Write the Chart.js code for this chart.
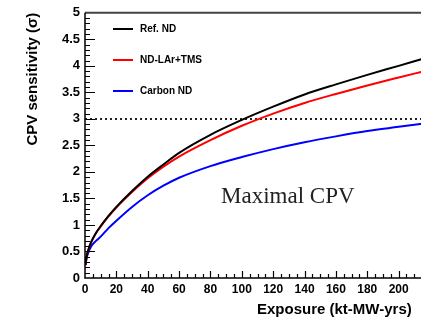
<!DOCTYPE html>
<html>
<head>
<meta charset="utf-8">
<script src="https://cdn.jsdelivr.net/npm/chart.js@4.4.1/dist/chart.umd.min.js"></script>
<style>
  html, body { margin: 0; padding: 0; background: #fff; overflow: hidden; }
  #wrap { width: 440px; height: 321px; }
</style>
</head>
<body>
<div id="wrap"><canvas id="cpvChart" width="440" height="321"></canvas></div>
<script>
// Values (exposure in kt-MW-yrs, sensitivity in sigma)
const exposure = [0.3, 1, 2, 4, 7, 10, 15, 20, 30, 40, 50, 60, 80, 100, 120, 140, 160, 180, 200, 215];
const refND    = [0.25, 0.4, 0.52, 0.68, 0.85, 0.98, 1.17, 1.34, 1.64, 1.91, 2.14, 2.36, 2.7, 2.98, 3.23, 3.46, 3.65, 3.83, 4.0, 4.13];
const ndLArTMS = [0.25, 0.4, 0.52, 0.68, 0.85, 0.97, 1.16, 1.33, 1.62, 1.88, 2.1, 2.29, 2.6, 2.87, 3.1, 3.3, 3.47, 3.63, 3.78, 3.89];
const carbonND = [0.24, 0.37, 0.47, 0.6, 0.7, 0.78, 0.94, 1.08, 1.34, 1.56, 1.74, 1.89, 2.11, 2.28, 2.43, 2.56, 2.67, 2.77, 2.85, 2.91];

const seriesNames  = ['Ref. ND', 'ND-LAr+TMS', 'Carbon ND'];
const seriesColors = ['#000000', '#ff0000', '#0000ff'];

const thresholdX = [0, 220];
const thresholdY = [3, 3];

const xTickMax = 200;

const boldFont = 'bold 15px "Liberation Sans", Arial, sans-serif';

function toPoints(xs, ys) {
    return xs.map((x, i) => ({ x: x, y: ys[i] }));
}

// ROOT-style frame, inner ticks, titles and legend
const framePlugin = {
    id: 'frame',
    afterDatasetsDraw(chart) {
        const ctx = chart.ctx;
        const area = chart.chartArea;
        const xs = chart.scales.x;
        const ys = chart.scales.y;
        ctx.save();

        // top border
        ctx.strokeStyle = '#444';
        ctx.lineWidth = 2;
        ctx.beginPath();
        ctx.moveTo(area.left, area.top);
        ctx.lineTo(area.right, area.top);
        ctx.stroke();

        // axes
        ctx.strokeStyle = '#000';
        ctx.lineWidth = 1.5;
        ctx.beginPath();
        ctx.moveTo(area.left, area.top);
        ctx.lineTo(area.left, area.bottom);
        ctx.lineTo(area.right, area.bottom);
        ctx.stroke();

        // y ticks, every 0.1, major every 0.5
        ctx.lineWidth = 1.2;
        ctx.beginPath();
        for (let i = 1; i < 50; i++) {
            const py = Math.round(ys.getPixelForValue(i / 10)) + 0.5;
            const len = i % 5 === 0 ? 10 : 5;
            ctx.moveTo(area.left, py);
            ctx.lineTo(area.left + len, py);
        }
        // x ticks, every 5, major every 20
        for (let v = 5; v <= 220; v += 5) {
            const px = Math.round(xs.getPixelForValue(v)) + 0.5;
            const len = v % 20 === 0 ? 7 : 4;
            ctx.moveTo(px, area.bottom);
            ctx.lineTo(px, area.bottom - len);
        }
        ctx.stroke();

        // axis titles
        ctx.fillStyle = '#000';
        ctx.font = boldFont;
        ctx.textBaseline = 'middle';
        ctx.textAlign = 'left';
        ctx.fillText('Exposure (kt-MW-yrs)', 257, 310);

        ctx.save();
        ctx.translate(33, area.top);
        ctx.rotate(-Math.PI / 2);
        ctx.textAlign = 'right';
        ctx.fillText('CPV sensitivity (\u03c3)', 0, 0);
        ctx.restore();

        // legend
        ctx.font = 'bold 10px "Liberation Sans", Arial, sans-serif';
        ctx.textAlign = 'left';
        seriesNames.forEach((name, i) => {
            const y = 29 + i * 31;
            ctx.strokeStyle = seriesColors[i];
            ctx.lineWidth = 2;
            ctx.beginPath();
            ctx.moveTo(113, y);
            ctx.lineTo(133, y);
            ctx.stroke();
            ctx.fillText(name, 140, y);
        });

        // annotation
        ctx.font = '23px "Liberation Serif", "Times New Roman", serif';
        ctx.textBaseline = 'alphabetic';
        ctx.fillStyle = '#222';
        ctx.fillText('Maximal CPV', 221, 203);

        ctx.restore();
    }
};

function buildDatasets() {
    const curves = [refND, ndLArTMS, carbonND].map((values, i) => ({
        label: seriesNames[i],
        data: toPoints(exposure, values),
        borderColor: seriesColors[i],
        borderWidth: 2,
        pointRadius: 0,
        fill: false,
        cubicInterpolationMode: 'monotone'
    }));
    curves.push({
        label: '3 sigma',
        data: toPoints(thresholdX, thresholdY),
        borderColor: '#222',
        borderWidth: 2,
        borderDash: [2, 3],
        pointRadius: 0,
        fill: false
    });
    return curves;
}

const tickFont = { family: '"Liberation Sans", Arial, sans-serif', weight: 'bold' };

new Chart(document.getElementById('cpvChart'), {
    type: 'line',
    data: { datasets: buildDatasets() },
    options: {
        responsive: false,
        animation: false,
        layout: { padding: { top: 12, right: 10, left: 0, bottom: 0 } },
        plugins: {
            legend: { display: false },
            tooltip: { enabled: false }
        },
        scales: {
            x: {
                type: 'linear',
                min: 0,
                max: 220,
                grid: { display: false, drawTicks: false },
                border: { display: false },
                ticks: {
                    stepSize: 20,
                    padding: 4,
                    color: '#000',
                    maxRotation: 0,
                    autoSkip: false,
                    font: Object.assign({ size: 12 }, tickFont),
                    callback: v => (v > xTickMax ? '' : v)
                },
                afterFit: s => { s.height = 43; }
            },
            y: {
                min: 0,
                max: 5,
                grid: { display: false, drawTicks: false },
                border: { display: false },
                ticks: {
                    stepSize: 0.5,
                    padding: 5,
                    color: '#000',
                    font: Object.assign({ size: 13 }, tickFont),
                    callback: v => String(Math.round(v * 10) / 10)
                },
                afterFit: s => { s.width = 85; }
            }
        }
    },
    plugins: [framePlugin]
});
</script>
</body>
</html>
